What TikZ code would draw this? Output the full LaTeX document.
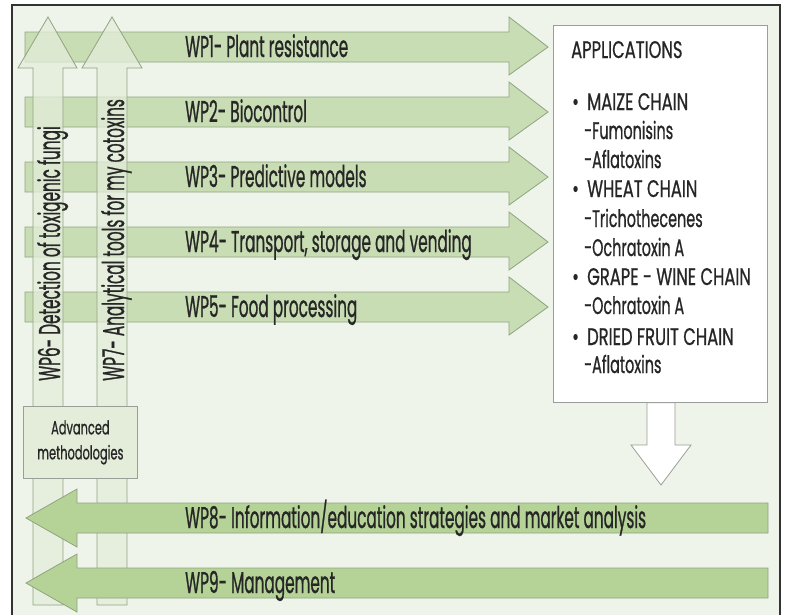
\documentclass[tikz,border=0pt]{standalone}
\usepackage{fontspec}
\newfontfamily\cf{Poppins}[FakeStretch=0.51, FakeBold=0.7]
\newfontfamily\cfu{Poppins}[FakeStretch=0.68, FakeBold=0.7]
\newfontfamily\cfl{Poppins}[FakeStretch=0.6, FakeBold=0.7]
\definecolor{bg}{HTML}{EEF4E9}
\definecolor{band}{HTML}{C9DDB4}
\definecolor{bandb}{HTML}{B5D397}
\definecolor{edge}{HTML}{8FA382}
\definecolor{vfill}{HTML}{E4EDDA}
\definecolor{txt}{HTML}{262626}
\definecolor{frame}{HTML}{333333}
\definecolor{gbox}{HTML}{9A9E98}
\tikzset{
  hband/.style={fill=band, draw=edge, line width=0.8pt},
  lband/.style={fill=bandb, draw=edge, line width=0.8pt},
  varrow/.style={fill=vfill, fill opacity=0.75, draw=edge, line width=0.8pt},
  wptext/.style={font=\cf\fontsize{30}{34}\selectfont, text=txt, inner sep=0pt, anchor=base west},
  appu/.style={font=\cfu\fontsize{24}{28}\selectfont, text=txt, inner sep=0pt, anchor=base west},
  appl/.style={font=\cfl\fontsize{24}{28}\selectfont, text=txt, inner sep=0pt, anchor=base west},
  advtext/.style={font=\cfl\fontsize{19}{25}\selectfont, text=txt, align=center, inner sep=0pt},
}
\begin{document}
\begin{tikzpicture}[x=1pt,y=-1pt]
\useasboundingbox (0,0) rectangle (789,614);
\fill[white] (0,0) rectangle (789,614);
\draw[fill=bg, draw=frame, line width=2pt] (12,5) rectangle (780,630);
% horizontal arrows WP1-WP5
\foreach \i/\c/\t in {1/47/{Plant resistance},2/112/{Biocontrol},3/177/{Predictive models},4/242/{Transport, storage and vending},5/307/{Food processing}}{
  \draw[hband] (25,\c-15) -- (509,\c-15) -- (509,\c-30) -- (548,\c) -- (509,\c+28) -- (509,\c+15) -- (25,\c+15) -- cycle;
  \node[wptext] (wp\i) at (185,\c+10) {WP\i- \t};
}
% vertical arrows WP6, WP7
\draw[varrow] (33,605) -- (33,68) -- (18,68) -- (48,17) -- (77,68) -- (63,68) -- (63,605) -- cycle;
\draw[varrow] (97,605) -- (97,68) -- (82,68) -- (112,17) -- (142,68) -- (127,68) -- (127,605) -- cycle;
\node[wptext, rotate=90] (wp6) at (60,381) {WP6- Detection of toxigenic fungi};
\node[wptext, rotate=90] (wp7) at (124,381) {WP7- Analytical tools for my cotoxins};
% advanced methodologies
\node[fill=vfill, draw=gbox, line width=0.8pt, minimum width=114pt, minimum height=72pt, anchor=north west] (adv) at (23,406) {};
\node[advtext] (advt) at (adv.center) {Advanced\\methodologies};
% left arrows WP8, WP9
\foreach \i/\c/\t in {8/518/{Information/education strategies and market analysis},9/583/{Management}}{
  \draw[lband] (768,\c-15) -- (77,\c-15) -- (77,\c-29) -- (26,\c) -- (77,\c+29) -- (77,\c+15) -- (768,\c+15) -- cycle;
  \node[wptext] (wp\i) at (185,\c+10) {WP\i- \t};
}
% applications box
\node[fill=white, draw=gbox, line width=0.8pt, minimum width=214pt, minimum height=377pt, anchor=north west] (appbox) at (553,25) {};
\node[appu] (a0) at (571,58) {APPLICATIONS};
\node[appu] (a1) at (572,110) {\makebox[15pt][l]{\textbullet}MAIZE CHAIN};
\node[appl] (a2) at (584,139) {-Fumonisins};
\node[appl] (a3) at (584,168) {-Aflatoxins};
\node[appu] (a4) at (572,197) {\makebox[15pt][l]{\textbullet}WHEAT CHAIN};
\node[appl] (a5) at (584,227) {-Trichothecenes};
\node[appl] (a6) at (584,256) {-Ochratoxin A};
\node[appu] (a7) at (572,285) {\makebox[15pt][l]{\textbullet}GRAPE - WINE CHAIN};
\node[appl] (a8) at (584,314) {-Ochratoxin A};
\node[appu] (a9) at (572,345) {\makebox[15pt][l]{\textbullet}DRIED FRUIT CHAIN};
\node[appl] (a10) at (584,373) {-Aflatoxins};
% down arrow
\draw[fill=white, draw=gbox, line width=0.8pt] (appbox.south -| 647,0) -- (647,445) -- (631,445) -- (661,485) -- (691,445) -- (675,445) -- (appbox.south -| 675,0) -- cycle;
\end{tikzpicture}
\end{document}
